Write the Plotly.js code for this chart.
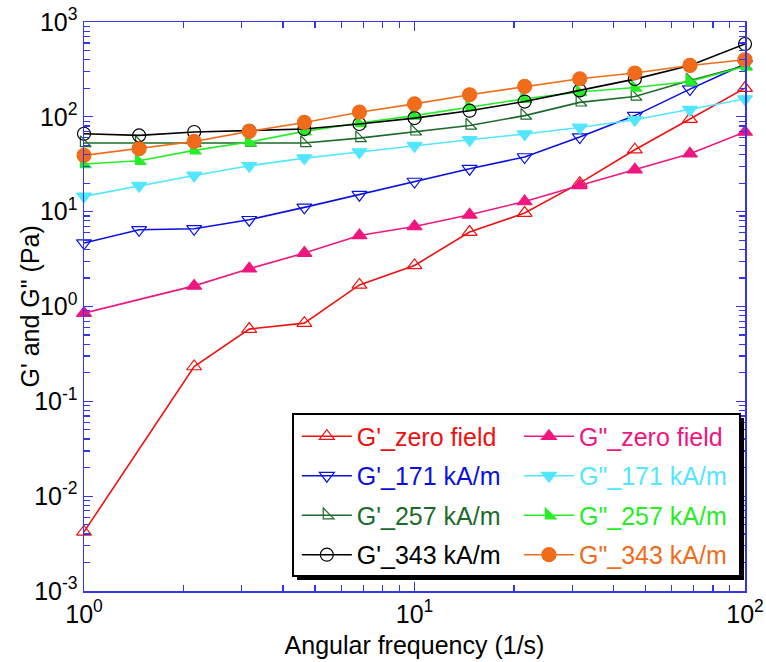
<!DOCTYPE html>
<html>
<head>
<meta charset="utf-8">
<script src="https://cdn.plot.ly/plotly-3.0.1.min.js"></script>
<style>
  html, body { margin: 0; padding: 0; background: #fff; }
  #chart { width: 766px; height: 662px; }
</style>
</head>
<body>
<div id="chart"></div>
<script>
// Angular frequency sweep (1/s)
const freq = [1, 1.468, 2.154, 3.162, 4.642, 6.813, 10, 14.68, 21.54, 31.62, 46.42, 68.13, 100];

// Storage (G') and loss (G") moduli in Pa for each magnetic field strength
const gpZero  = [0.0042, null, 0.233, 0.578, 0.668, 1.69, 2.71, 6.09, 9.67, 20.0, 45.0, 94.8, 201];
const gppZero = [0.851, null, 1.65, 2.50, 3.66, 5.61, 6.98, 9.27, 12.8, 18.9, 27.7, 40.8, 69.2];
const gp171   = [4.67, 6.44, 6.6, 8.22, 11.1, 15.1, 20.8, 28.4, 37.7, 61.2, 103, 196, 360];
const gpp171  = [14.5, 18.8, 24.1, 30.5, 36.7, 42.5, 49.6, 57.3, 65.9, 77.3, 93, 119, 154];
const gp257   = [52.9, 53, 53, 53.5, 53, 59.7, 70.2, 81.1, 103, 142, 164, 242, 346];
const gpp257  = [31.8, 34.4, 44.3, 54.2, 70.2, 86, 103, 127, 155, 183, 204, 236, 340];
const gp343   = [66.3, 63.7, 69.2, 71.3, 74.3, 84, 97, 116, 145, 190, 250, 348, 586];
const gpp343  = [39.2, 46.1, 55, 70.2, 87.3, 112, 137, 171, 209, 252, 290, 348, 400];

const seriesNames = [
  "G'_zero field", 'G"_zero field',
  "G'_171 kA/m",   'G"_171 kA/m',
  "G'_257 kA/m",   'G"_257 kA/m',
  "G'_343 kA/m",   'G"_343 kA/m'
];
const seriesValues = [gpZero, gppZero, gp171, gpp171, gp257, gpp257, gp343, gpp343];

// Axis tick labels
const xTickVals = [1, 10, 100];
const xTickText = ['10<sup>0</sup>', '10<sup>1</sup>', '10<sup>2</sup>'];
const yTickVals = [0.001, 0.01, 0.1, 1, 10, 100, 1000];
const yTickText = ['10<sup>-3</sup>', '10<sup>-2</sup>', '10<sup>-1</sup>', '10<sup>0</sup>',
                   '10<sup>1</sup>', '10<sup>2</sup>', '10<sup>3</sup>'];

// Styling per series
const colors  = ['#ee1111', '#f0167f', '#0a10e0', '#52e6ff', '#1d6b2a', '#25ee25', '#000000', '#f06c1a'];
const symbols = ['triangle-up-open', 'triangle-up', 'triangle-down-open', 'triangle-down',
                 'triangle-sw-open', 'triangle-sw', 'circle-open', 'circle'];
const sizes   = [13, 13, 13, 13, 12, 12, 13, 14];

const FONT = 'Arial, "Liberation Sans", sans-serif';

// Minor ticks at 2..9 within each decade
function minorTicks(lo, hi) {
  const out = [];
  for (let e = lo; e < hi; e++) {
    for (let m = 2; m <= 9; m++) out.push(m * Math.pow(10, e));
  }
  return out;
}

const traces = seriesNames.map((name, i) => ({
  type: 'scatter',
  mode: 'lines+markers',
  x: freq,
  y: seriesValues[i],
  connectgaps: true,
  cliponaxis: false,
  name: '<span style="color:' + colors[i] + '">' + name + '</span>',
  legend: i % 2 === 0 ? 'legend' : 'legend2',
  legendgroup: 'g' + i,
  line: { color: colors[i], width: 1.6 },
  marker: {
    symbol: symbols[i],
    size: sizes[i],
    color: colors[i],
    line: { color: colors[i], width: 1.2 }
  },
  hoverinfo: 'x+y+name'
}));

const axisColor = '#3535ee';

const commonAxis = {
  type: 'log',
  showline: true,
  linecolor: axisColor,
  linewidth: 1.5,
  mirror: 'ticks',
  ticks: 'inside',
  ticklen: 9,
  tickwidth: 1.3,
  tickcolor: axisColor,
  showgrid: false,
  zeroline: false,
  tickmode: 'array',
  tickfont: { family: FONT, size: 25, color: '#000' }
};

const legendCommon = {
  bgcolor: 'rgba(0,0,0,0)',
  borderwidth: 0,
  font: { family: FONT, size: 25, color: '#000' },
  xanchor: 'left',
  yanchor: 'top',
  y: 0.312,
  itemwidth: 50,
  tracegroupgap: 4,
  itemclick: false,
  itemdoubleclick: false
};

const layout = {
  width: 766,
  height: 662,
  margin: { l: 84, r: 21, t: 22, b: 71 },
  paper_bgcolor: '#fff',
  plot_bgcolor: '#fff',
  font: { family: FONT, color: '#000' },
  xaxis: Object.assign({}, commonAxis, {
    range: [0, 2],
    tickvals: xTickVals,
    ticktext: xTickText,
    minor: { tickvals: minorTicks(0, 2), ticks: 'inside', ticklen: 6, tickwidth: 1.2, tickcolor: axisColor },
    title: { text: 'Angular frequency (1/s)', font: { family: FONT, size: 25, color: '#000' }, standoff: 10 }
  }),
  yaxis: Object.assign({}, commonAxis, {
    range: [-3, 3],
    tickvals: yTickVals,
    ticktext: yTickText,
    minor: { tickvals: minorTicks(-3, 3), ticks: 'inside', ticklen: 6, tickwidth: 1.2, tickcolor: axisColor }
  }),
  annotations: [
    // y-axis title, set close to the tick labels
    { xref: 'paper', yref: 'paper', x: -0.0817, y: 0.5, xanchor: 'center', yanchor: 'middle',
      textangle: -90, showarrow: false, text: 'G\' and G" (Pa)',
      font: { family: FONT, size: 25, color: '#000' } }
  ],
  legend: Object.assign({}, legendCommon, { x: 0.322 }),
  legend2: Object.assign({}, legendCommon, { x: 0.658 }),
  shapes: [
    // drop shadow behind the legend box
    { type: 'rect', xref: 'paper', yref: 'paper', layer: 'above',
      x0: 0.3222, x1: 0.9985, y0: 0.0193, y1: 0.304,
      fillcolor: '#000', line: { width: 0 } },
    // legend box
    { type: 'rect', xref: 'paper', yref: 'paper', layer: 'above',
      x0: 0.3162, x1: 0.9924, y0: 0.0264, y1: 0.3111,
      fillcolor: '#fff', line: { color: '#000', width: 2 } }
  ],
  showlegend: true
};

Plotly.newPlot('chart', traces, layout, { staticPlot: true, displayModeBar: false });
</script>
</body>
</html>
